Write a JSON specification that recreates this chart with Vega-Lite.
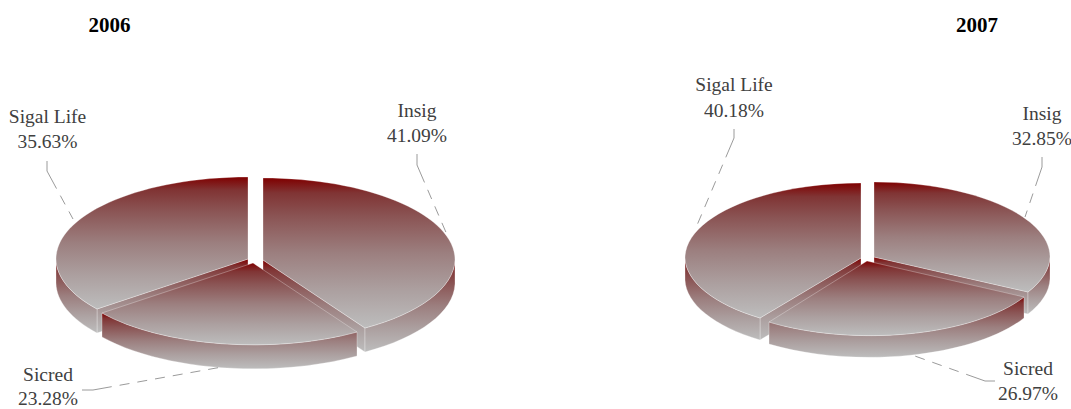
{
"$schema":"https://vega.github.io/schema/vega-lite/v6.json",
"width":1071,"height":409,"autosize":"none","padding":0,"background":"white",
"config":{"view":{"stroke":null}},
"data":{"values":[
{"year":"2006","company":"Insig","share":41.09,"slice":"2006 Insig","label":"Insig\n41.09%"},
{"year":"2006","company":"Sigal Life","share":35.63,"slice":"2006 Sigal Life","label":"Sigal Life\n35.63%"},
{"year":"2006","company":"Sicred","share":23.28,"slice":"2006 Sicred","label":"Sicred\n23.28%"},
{"year":"2007","company":"Insig","share":32.85,"slice":"2007 Insig","label":"Insig\n32.85%"},
{"year":"2007","company":"Sigal Life","share":40.18,"slice":"2007 Sigal Life","label":"Sigal Life\n40.18%"},
{"year":"2007","company":"Sicred","share":26.97,"slice":"2007 Sicred","label":"Sicred\n26.97%"}
]},
"encoding":{
"x":{"field":"year","type":"nominal","axis":null,"scale":{"type":"point","domain":["2006","2007"],"range":[255,867],"padding":0}},
"y":{"value":260}
},
"layer":[
{"transform":[{"filter":"datum.company!='Sicred'"}],
"mark":{"type":"point","filled":true,"size":4,"opacity":1,"stroke":"#ffffff","strokeWidth":0.3,"fill":{"gradient":"linear","x1":0,"y1":0,"x2":0,"y2":1,"stops":[{"offset":0,"color":"#7f0000"},{"offset":0.1,"color":"#803434"},{"offset":0.25,"color":"#8a5353"},{"offset":0.5,"color":"#9c7f7f"},{"offset":0.75,"color":"#aca0a0"},{"offset":1,"color":"#bdbdbd"}]}},
"encoding":{"shape":{"field":"slice","type":"nominal","legend":null,"scale":{"domain":["2006 Insig","2006 Sigal Life","2007 Insig","2007 Sigal Life"],"range":["M8,0L110,68L110,92L8,24Z","M-7,-1L-158,49L-158,73L-7,23Z","M7,-3L161,32L161,54L7,19Z","M-6,-2L-107,58L-107,80L-6,20Z"]}}}},
{"mark":{"type":"point","filled":true,"size":4,"opacity":1,"stroke":"#ffffff","strokeWidth":0.3,"fill":{"gradient":"linear","x1":0,"y1":0,"x2":0,"y2":1,"stops":[{"offset":0,"color":"#7f0000"},{"offset":0.1,"color":"#803434"},{"offset":0.25,"color":"#8a5353"},{"offset":0.5,"color":"#9c7f7f"},{"offset":0.75,"color":"#aca0a0"},{"offset":1,"color":"#bdbdbd"}]}},
"encoding":{"shape":{"field":"slice","type":"nominal","legend":null,"scale":{"domain":["2006 Insig","2006 Sigal Life","2006 Sicred","2007 Insig","2007 Sigal Life","2007 Sicred"],"range":["M200,0A192,82,0,0,1,110,68L110,92A192,82,0,0,0,200,24Z","M-199,-1A192,82,0,0,0,-158,49L-158,73A192,82,0,0,1,-199,23Z","M102,72A192,82,0,0,1,-153,53L-153,77A192,82,0,0,0,102,96Z","M183,-3A176,75,0,0,1,161,32L161,54A176,75,0,0,0,183,19Z","M-182,-2A176,75,0,0,0,-107,58L-107,80A176,75,0,0,1,-182,20Z","M157,37A176,75,0,0,1,-98,62L-98,84A176,75,0,0,0,157,58Z"]}}}},
{"mark":{"type":"point","filled":true,"size":4,"opacity":1,"stroke":"#ffffff","strokeWidth":0.3,"fill":{"gradient":"linear","x1":0,"y1":0,"x2":0,"y2":1,"stops":[{"offset":0,"color":"#7f0000"},{"offset":0.1,"color":"#803434"},{"offset":0.25,"color":"#8a5353"},{"offset":0.5,"color":"#9c7f7f"},{"offset":0.75,"color":"#aca0a0"},{"offset":1,"color":"#bdbdbd"}]}},
"encoding":{"shape":{"field":"slice","type":"nominal","legend":null,"scale":{"domain":["2006 Insig","2006 Sigal Life","2006 Sicred","2007 Insig","2007 Sigal Life","2007 Sicred"],"range":["M8,0L8,-82A192,82,0,0,1,200,0A192,82,0,0,1,110,68Z","M-7,-1L-7,-83A192,82,0,0,0,-199,-1A192,82,0,0,0,-158,49Z","M-2,3L102,72A192,82,0,0,1,-153,53Z","M7,-3L7,-78A176,75,0,0,1,183,-3A176,75,0,0,1,161,32Z","M-6,-2L-6,-77A176,75,0,0,0,-182,-2A176,75,0,0,0,-107,58Z","M0,1L157,37A176,75,0,0,1,-98,62Z"]}}}},
{"mark":{"type":"point","filled":false,"size":4,"opacity":1,"stroke":"#808080","strokeWidth":0.8,"strokeDash":[30,8,10,8,10,8,10,8,10,8,10,8,10,8,10,8,10,400]},
"encoding":{"shape":{"field":"slice","type":"nominal","legend":null,"scale":{"domain":["2006 Insig","2006 Sigal Life","2006 Sicred","2007 Insig","2007 Sigal Life","2007 Sicred"],"range":["M162,-106L162,-95L193,-23","M-208,-99L-208,-89L-182,-41","M-173,130L-162,130L-33,107","M175,-103L175,-93L158,-43","M-133,-131L-133,-122L-172,-30","M128,121L118,121L45,95"]}}}},
{"transform":[{"filter":"datum.slice=='2006 Insig'"}],"mark":{"type":"text","font":"Liberation Serif","fontSize":19.5,"color":"#404040","lineBreak":"\n","lineHeight":25,"baseline":"alphabetic","dx":162,"dy":-143},"encoding":{"text":{"field":"label"}}},
{"transform":[{"filter":"datum.slice=='2006 Sigal Life'"}],"mark":{"type":"text","font":"Liberation Serif","fontSize":19.5,"color":"#404040","lineBreak":"\n","lineHeight":25,"baseline":"alphabetic","dx":-207.5,"dy":-137},"encoding":{"text":{"field":"label"}}},
{"transform":[{"filter":"datum.slice=='2006 Sicred'"}],"mark":{"type":"text","font":"Liberation Serif","fontSize":19.5,"color":"#404040","lineBreak":"\n","lineHeight":24,"baseline":"alphabetic","dx":-207,"dy":121},"encoding":{"text":{"field":"label"}}},
{"transform":[{"filter":"datum.slice=='2007 Insig'"}],"mark":{"type":"text","font":"Liberation Serif","fontSize":19.5,"color":"#404040","lineBreak":"\n","lineHeight":25,"baseline":"alphabetic","dx":175,"dy":-140},"encoding":{"text":{"field":"label"}}},
{"transform":[{"filter":"datum.slice=='2007 Sigal Life'"}],"mark":{"type":"text","font":"Liberation Serif","fontSize":19.5,"color":"#404040","lineBreak":"\n","lineHeight":26,"baseline":"alphabetic","dx":-133,"dy":-169},"encoding":{"text":{"field":"label"}}},
{"transform":[{"filter":"datum.slice=='2007 Sicred'"}],"mark":{"type":"text","font":"Liberation Serif","fontSize":19.5,"color":"#404040","lineBreak":"\n","lineHeight":25,"baseline":"alphabetic","dx":161,"dy":115},"encoding":{"text":{"field":"label"}}},
{"transform":[{"filter":"datum.slice=='2006 Insig'"}],"mark":{"type":"text","font":"Liberation Serif","fontSize":21,"fontWeight":"bold","color":"#000000","baseline":"alphabetic","dx":-145.5,"dy":-228},"encoding":{"text":{"field":"year"}}},
{"transform":[{"filter":"datum.slice=='2007 Insig'"}],"mark":{"type":"text","font":"Liberation Serif","fontSize":21,"fontWeight":"bold","color":"#000000","baseline":"alphabetic","dx":110,"dy":-228},"encoding":{"text":{"field":"year"}}}
],
"resolve":{"scale":{"shape":"independent"}}
}
